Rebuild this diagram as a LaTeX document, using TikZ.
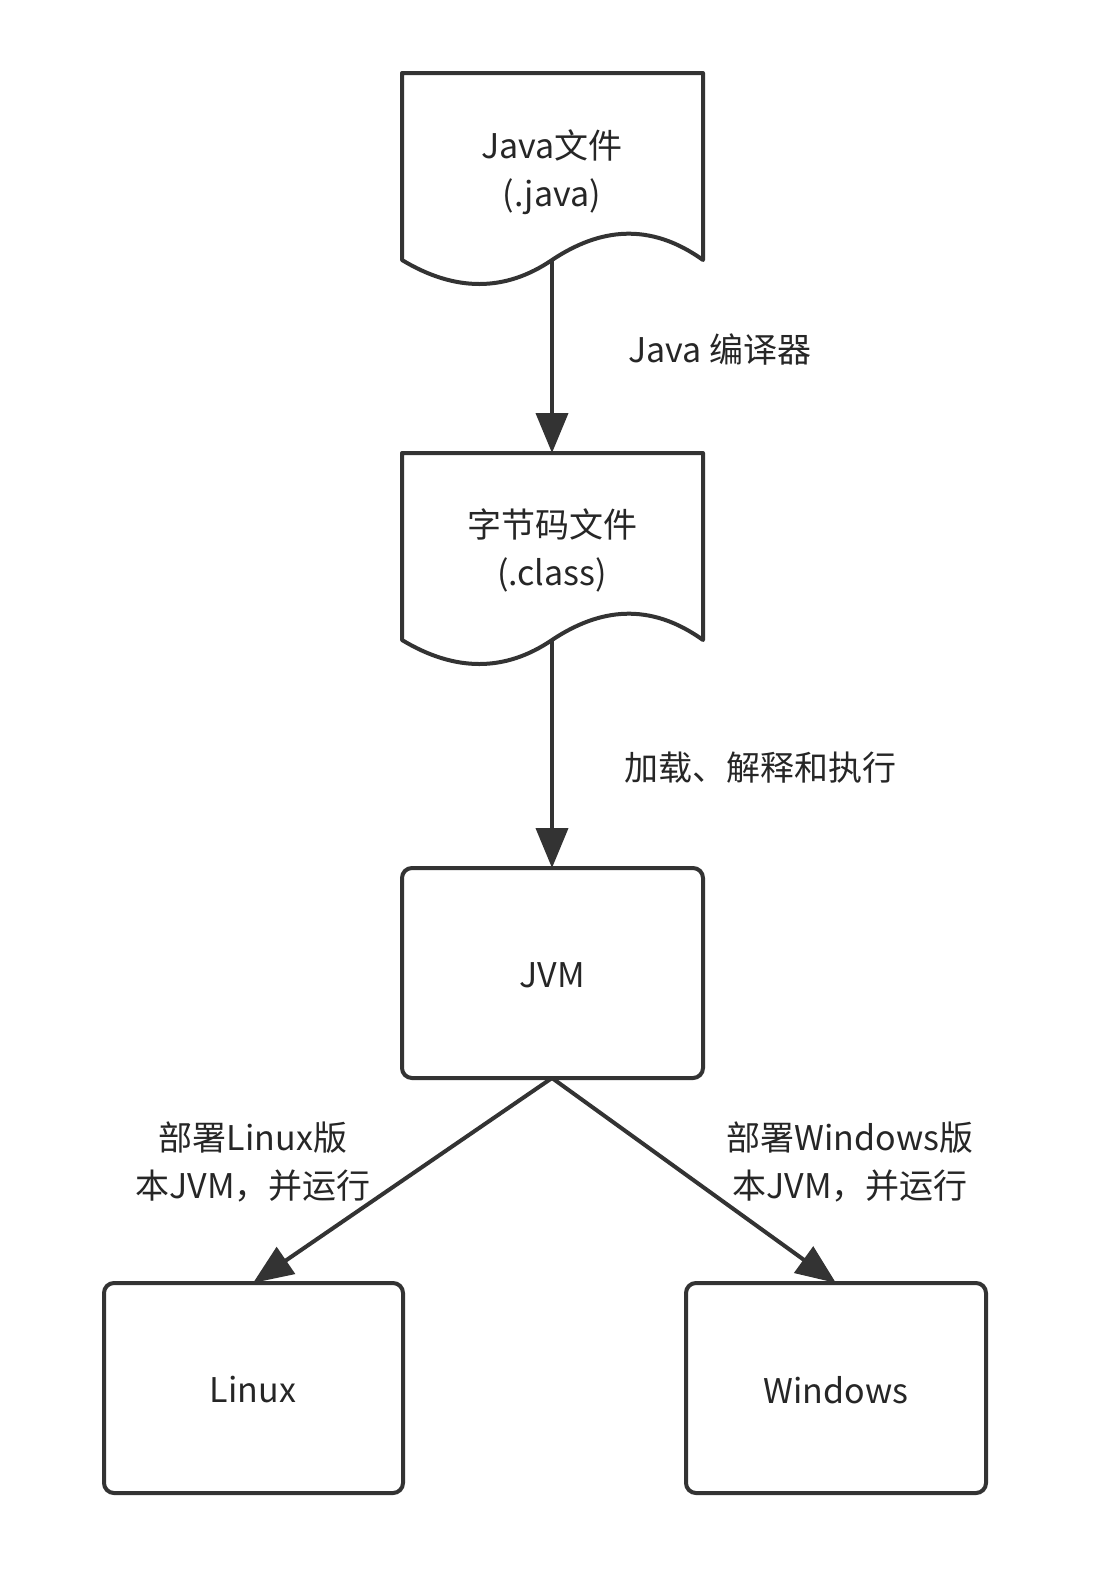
\documentclass[tikz,border=0pt]{standalone}
\usepackage{fontspec}
\setmainfont{Noto Sans CJK SC}
\usetikzlibrary{arrows.meta}
\begin{document}
\begin{tikzpicture}[x=1pt,y=-1pt,
  ln/.style={line width=4pt,draw=black!80},
  box/.style={ln,rounded corners=10pt},
  arr/.style={line width=4pt,draw=black!80,-{Triangle[length=40pt,width=32pt]}},
  lbl/.style={font=\fontsize{34}{48}\selectfont,text=black!85,align=center}]
\useasboundingbox (0,0) rectangle (1110,1575);
\draw[ln,line join=round] (402,73)--(703,73)--(703,260) .. controls (650,222) and (600,228) .. (552,260) .. controls (505,292) and (455,292) .. (402,260) -- cycle;
\node[lbl] (java) at (552,172) {Java文件\\(.java)};
\coordinate (d1b) at (552,260);
\draw[ln,line join=round] (402,453)--(703,453)--(703,640) .. controls (650,602) and (600,608) .. (552,640) .. controls (505,672) and (455,672) .. (402,640) -- cycle;
\node[lbl] (cls) at (552,550) {字节码文件\\(.class)};
\coordinate (d2t) at (552,453);
\coordinate (d2b) at (552,640);
\draw[box] (402,868) rectangle (703,1078);
\node[lbl] (jvm) at (552,975) {JVM};
\coordinate (jt) at (552,868);
\coordinate (jb) at (552,1078);
\draw[box] (104,1283) rectangle (403,1493);
\node[lbl] (lin) at (253,1390) {Linux};
\coordinate (lt) at (253,1283);
\draw[box] (686,1283) rectangle (986,1493);
\node[lbl] (win) at (836,1390) {Windows};
\coordinate (wt) at (836,1283);
\draw[arr] (d1b) -- (d2t);
\draw[arr] (d2b) -- (jt);
\draw[arr] (jb) -- (lt);
\draw[arr] (jb) -- (wt);
\node[lbl] (l1) at (720,350) {Java 编译器};
\node[lbl] (l2) at (760,768) {加载、解释和执行};
\node[lbl] (l3) at (253,1162) {部署Linux版\\本JVM，并运行};
\node[lbl] (l4) at (850,1162) {部署Windows版\\本JVM，并运行};
\end{tikzpicture}
\end{document}
